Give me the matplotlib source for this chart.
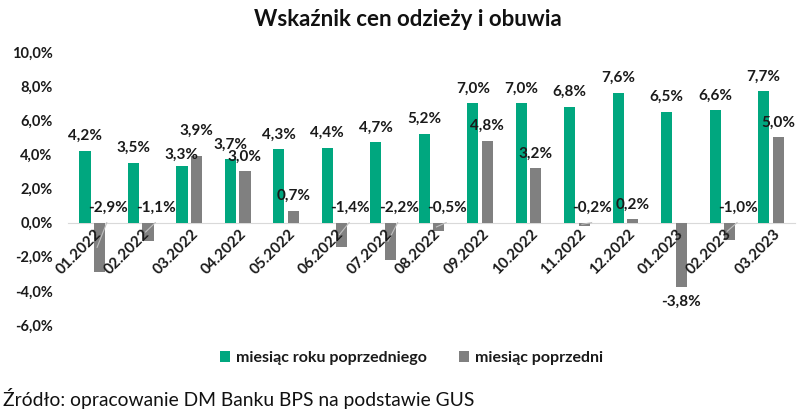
import matplotlib.pyplot as plt
import numpy as np

plt.rcParams['font.family'] = ['Lato', 'DejaVu Sans']

# data
months = ['01.2022', '02.2022', '03.2022', '04.2022', '05.2022', '06.2022', '07.2022',
          '08.2022', '09.2022', '10.2022', '11.2022', '12.2022', '01.2023', '02.2023', '03.2023']
rok_poprz = [4.2, 3.5, 3.3, 3.7, 4.3, 4.4, 4.7, 5.2, 7.0, 7.0, 6.8, 7.6, 6.5, 6.6, 7.7]
mies_poprz = [-2.9, -1.1, 3.9, 3.0, 0.7, -1.4, -2.2, -0.5, 4.8, 3.2, -0.2, 0.2, -3.8, -1.0, 5.0]
yticks = [-6, -4, -2, 0, 2, 4, 6, 8, 10]

green = '#00A77F'
grey = '#808080'
txt = '#1a1a1a'

def fmt(v):
    return f'{v:.1f}%'.replace('.', ',')

fig = plt.figure(figsize=(8, 4.17), dpi=100)
ax = fig.add_axes([0.085, 0.2206, 0.909, 0.6547])

x = np.arange(len(months))
w = 0.23
off = 0.15
ax.bar(x - off, rok_poprz, width=w, color=green, label='miesiąc roku poprzedniego', zorder=3)
ax.bar(x + off, mies_poprz, width=w, color=grey, label='miesiąc poprzedni', zorder=3)

ax.set_xlim(-0.5, len(months) - 0.5)
ax.set_ylim(-6, 10)
ax.set_yticks(yticks)
ax.set_yticklabels([fmt(t) for t in yticks], fontsize=10.5, fontweight='bold', color=txt)

for s in ['top', 'right', 'left']:
    ax.spines[s].set_visible(False)
ax.spines['bottom'].set_position(('data', 0))
ax.spines['bottom'].set_color('#d9d9d9')
ax.spines['bottom'].set_zorder(2)
ax.tick_params(length=0)
ax.tick_params(axis='y', pad=11)

ax.set_xticks(x + 0.04)
ax.set_xticklabels(months, rotation=45, ha='right', va='top', rotation_mode='anchor',
                   fontsize=11, fontweight='bold', color=txt)
ax.tick_params(axis='x', pad=3)
ax.xaxis.set_zorder(5)

# small nudges so neighbouring labels don't collide (like the original)
nudge_grey = {2: 0.6}
nudge_green = {2: -0.2}

# value labels
for i, v in enumerate(rok_poprz):
    ax.text(i - off, v + 0.45 + nudge_green.get(i, 0), fmt(v), ha='center', va='bottom',
            fontsize=11, fontweight='bold', color=txt)

for i, v in enumerate(mies_poprz):
    if v >= 0:
        ax.text(i + off, v + 0.45 + nudge_grey.get(i, 0), fmt(v), ha='center', va='bottom',
                fontsize=11, fontweight='bold', color=txt, zorder=4)
    elif v > -3.5:
        ax.text(i + off + 0.17, 0.85, fmt(v), ha='center', va='center',
                fontsize=11, fontweight='bold', color=txt, zorder=4)
        ax.plot([i + off - 0.05, i + off + 0.15], [v / 2, 0.0], color='#bfbfbf', lw=0.8, zorder=4)
    else:
        ax.text(i + off, v - 0.45, fmt(v), ha='center', va='top',
                fontsize=11, fontweight='bold', color=txt)

fig.text(0.51, 0.953, 'Wskaźnik cen odzieży i obuwia', ha='center', va='center',
         fontsize=16, fontweight='bold', color='#111111')

leg = fig.legend(loc='center', bbox_to_anchor=(0.514, 0.142), ncol=2, frameon=False,
                 prop={'size': 11.5, 'weight': 'bold'}, handlelength=0.65, handleheight=0.65,
                 handletextpad=0.35, columnspacing=2.0)
for t in leg.get_texts():
    t.set_color(txt)

fig.text(0.004, 0.045, 'Źródło: opracowanie DM Banku BPS na podstawie GUS', ha='left', va='center',
         fontsize=13.9, color='#111111')

fig.savefig('out.png', dpi=100)
